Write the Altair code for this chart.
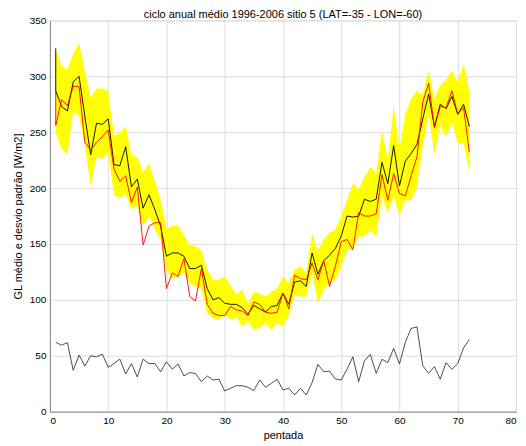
import altair as alt
import pandas as pd

pentada = list(range(1, 73))

media = [287, 273, 269, 295, 300, 264, 230, 258, 257, 262,
         221, 220, 237, 201, 208, 182, 194, 181, 166, 139,
         142, 142, 139, 128, 128, 131, 110, 100, 102, 97,
         96, 96, 93, 87, 95, 92, 89, 94, 95, 106,
         96, 116, 117, 112, 142, 123, 135, 140, 146, 157,
         175, 174, 175, 190, 188, 190, 223, 204, 238, 202,
         224, 231, 239, 262, 284, 255, 275, 271, 282, 266,
         275, 255]

vermelho = [256, 279, 274, 291, 291, 241, 234, 241, 246, 252,
            217, 206, 211, 187, 201, 149, 166, 169, 169, 110,
            124, 121, 137, 103, 99, 128, 96, 88, 86, 86,
            94, 91, 90, 86, 98, 96, 89, 88, 89, 106,
            92, 122, 119, 118, 133, 118, 135, 112, 130, 152,
            154, 145, 178, 175, 175, 177, 212, 189, 213, 195,
            193, 211, 228, 277, 294, 254, 273, 272, 287, 266,
            272, 232]

banda_sup = [325, 309, 306, 320, 330, 305, 281, 289, 289, 287,
             247, 249, 256, 229, 228, 214, 222, 207, 190, 164,
             166, 167, 158, 149, 148, 144, 127, 118, 118, 121,
             113, 105, 109, 96, 107, 106, 103, 107, 110, 121,
             115, 127, 130, 124, 159, 144, 154, 160, 163, 175,
             189, 204, 199, 210, 219, 213, 252, 225, 274, 235,
             266, 280, 287, 284, 305, 280, 292, 297, 305, 295,
             311, 287]

banda_inf = [250, 235, 230, 268, 265, 238, 201, 228, 226, 232,
             194, 191, 195, 181, 184, 166, 175, 163, 154, 127,
             119, 121, 124, 115, 112, 110, 88, 84, 82, 87,
             82, 85, 76, 81, 73, 75, 79, 73, 79, 76,
             86, 104, 103, 103, 124, 97, 109, 115, 118, 130,
             145, 145, 157, 157, 162, 157, 193, 178, 193, 175,
             189, 189, 201, 238, 266, 230, 256, 246, 259, 240,
             240, 214]

desvio = [62, 59.5, 61.7, 37, 50.6, 40.8, 50, 49, 51.5, 39.6,
          43, 47, 33.7, 43, 31, 47, 43, 43, 35.7, 44.6,
          38, 42.6, 32, 35, 34, 26.8, 31.9, 28.3, 29, 18.5,
          20.9, 23.2, 23.2, 21.8, 18.8, 28.3, 21.8, 25.3, 29, 19.4,
          20.9, 14.9, 20.9, 14.9, 25.9, 42.3, 35.7, 36.3, 29.2, 28.3,
          38, 49, 26.8, 45.5, 51.2, 34.3, 46.8, 44, 56.6, 42.6,
          62, 74.4, 75.9, 41, 34.3, 40.2, 29, 43.8, 37.8, 43,
          57, 64.6]

x_ticks = list(range(0, 81, 10))
y_ticks = list(range(0, 351, 50))

df = pd.DataFrame({
    "pentada": pentada,
    "media": media,
    "vermelho": vermelho,
    "sup": banda_sup,
    "inf": banda_inf,
    "desvio": desvio,
})

FONT = "Liberation Sans"

xscale = alt.Scale(domain=[0, 80], nice=False, zero=False)
yscale = alt.Scale(domain=[0, 350], nice=False)

x_axis = alt.Axis(values=x_ticks, title="pentada", grid=True, ticks=False,
                  labelPadding=4, titlePadding=4, format="d",
                  titleFontWeight="normal", titleFont=FONT, titleFontSize=11)
y_axis = alt.Axis(values=y_ticks, title="GL médio e desvio padrão [W/m2]",
                  grid=True, ticks=False, labelPadding=4, titlePadding=6, format="d",
                  titleFontWeight="normal", titleFont=FONT, titleFontSize=11)

base = alt.Chart(df)

band = base.mark_area(color="#FFFF00", opacity=1).encode(
    x=alt.X("pentada:Q", scale=xscale, axis=x_axis),
    y=alt.Y("inf:Q", scale=yscale, axis=y_axis),
    y2="sup:Q",
)

black = base.mark_line(color="#000000", strokeWidth=0.9).encode(
    x="pentada:Q", y="media:Q"
)
red = base.mark_line(color="#FF0000", strokeWidth=0.9).encode(
    x="pentada:Q", y="vermelho:Q"
)
std_line = base.mark_line(color="#222222", strokeWidth=0.8).encode(
    x="pentada:Q", y="desvio:Q"
)

first = df.iloc[[0]]
edge_black = alt.Chart(first).mark_rule(color="#000000", strokeWidth=0.9).encode(
    x="pentada:Q", y="sup:Q", y2="media:Q"
)
edge_red = alt.Chart(first).mark_rule(color="#FF0000", strokeWidth=0.9).encode(
    x="pentada:Q", y="media:Q", y2="vermelho:Q"
)

chart = alt.layer(band, edge_black, edge_red, black, red, std_line).properties(
    width=467,
    height=392,
    title=alt.TitleParams("ciclo anual médio 1996-2006 sitio 5 (LAT=-35 - LON=-60)",
                          fontSize=11, font=FONT, fontWeight="normal",
                          offset=-5, frame="group", color="#000"),
    autosize=alt.AutoSizeParams(type="none"),
    padding={"left": 42, "top": 12, "right": 2, "bottom": 34},
).configure_view(
    stroke="#000000", strokeWidth=1
).configure_axis(
    labelFont=FONT, labelFontSize=10, labelColor="#000",
    titleFont=FONT, titleFontSize=11, titleFontWeight="normal", titleColor="#000",
    domainColor="#000", domainWidth=1,
    gridColor="#999999", gridDash=[1, 3], gridWidth=1,
).configure_title(
    fontWeight="normal"
).configure(background="white")

chart.save("out.html", embed_options={"renderer": "svg", "actions": False})
